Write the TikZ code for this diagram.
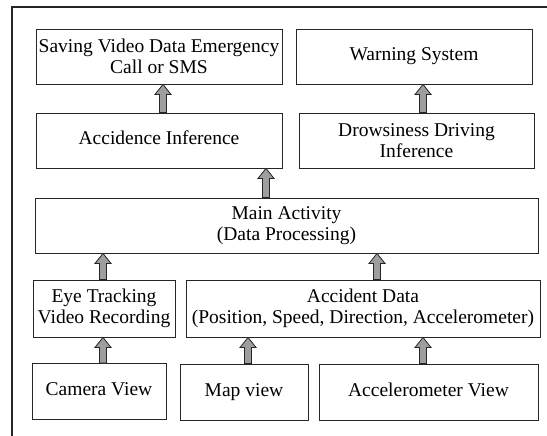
\documentclass[tikz,border=0pt]{standalone}
\usepackage{fontspec}
\setmainfont{Liberation Serif}
\usetikzlibrary{calc}
\tikzset{
  box/.style={draw=black!85, line width=0.9pt, align=center, inner sep=0pt,
    font=\fontsize{19.5}{21}\selectfont},
  oneline/.style={text height=13pt, text depth=4.5pt},
  barr/.style={draw=black!85, line width=0.8pt, fill=black!38, line join=miter},
}
\newcommand\blockarrow[3]{%
  \draw[barr] let \p1=(#2.north), \p2=(#3.south) in
    (#1pt-3.5pt,\y1) -- (#1pt-3.5pt,\y2-10pt) -- (#1pt-8pt,\y2-10pt) -- (#1pt,\y2)
    -- (#1pt+8pt,\y2-10pt) -- (#1pt+3.5pt,\y2-10pt) -- (#1pt+3.5pt,\y1) -- cycle;}
\begin{document}
\begin{tikzpicture}[x=1pt,y=-1pt]
\useasboundingbox (0,0) rectangle (547,436);
\coordinate (ftl) at (12,7);
\coordinate (ftr) at (547,7);
\coordinate (fbl) at (12,436);
\draw[line width=1.1pt, black!85] (ftr) -- (ftl) -- (fbl);

\node[box, minimum width=246pt, minimum height=55pt] (save) at (159,56.5) {Saving Video Data Emergency\\Call or SMS};
\node[box, oneline, minimum width=236pt, minimum height=55pt] (warn) at (414,56.5) {Warning System};
\node[box, oneline, minimum width=246pt, minimum height=55pt] (acc) at (159,140.5) {Accidence Inference};
\node[box, minimum width=235pt, minimum height=55pt] (drow) at (416.5,140.5) {Drowsiness Driving\\Inference};
\node[box, minimum width=503pt, minimum height=55pt] (main) at (286.5,225.5) {Main Activity\\(Data Processing)};
\node[box, minimum width=142pt, minimum height=57pt] (eye) at (104,308.5) {Eye Tracking\\Video Recording};
\node[box, minimum width=354pt, minimum height=57pt] (data) at (363,308.5) {Accident Data\\(Position, Speed, Direction, Accelerometer)};
\node[box, oneline, minimum width=134pt, minimum height=56pt] (cam) at (99,391.5) {Camera View};
\node[box, oneline, minimum width=128pt, minimum height=56pt] (map) at (244,392) {Map view};
\node[box, oneline, minimum width=219pt, minimum height=56pt] (accel) at (428.5,392) {Accelerometer View};

\blockarrow{163}{acc}{save}
\blockarrow{423}{drow}{warn}
\blockarrow{266}{main}{acc}
\blockarrow{103}{eye}{main}
\blockarrow{377}{data}{main}
\blockarrow{103}{cam}{eye}
\blockarrow{248}{map}{data}
\blockarrow{423}{accel}{data}
\end{tikzpicture}
\end{document}
